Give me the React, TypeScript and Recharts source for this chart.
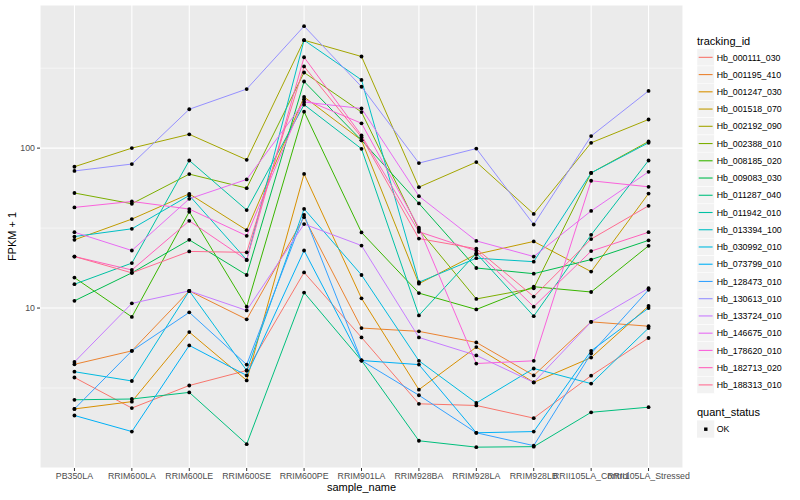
import React from "react";
import { LineChart, Line, XAxis, YAxis, CartesianGrid, ReferenceLine } from "recharts";

const samples = [
  "PB350LA",
  "RRIM600LA",
  "RRIM600LE",
  "RRIM600SE",
  "RRIM600PE",
  "RRIM901LA",
  "RRIM928BA",
  "RRIM928LA",
  "RRIM928LB",
  "RRII105LA_Control",
  "RRII105LA_Stressed",
];

const trackingIds = [
  "Hb_000111_030",
  "Hb_001195_410",
  "Hb_001247_030",
  "Hb_001518_070",
  "Hb_002192_090",
  "Hb_002388_010",
  "Hb_008185_020",
  "Hb_009083_030",
  "Hb_011287_040",
  "Hb_011942_010",
  "Hb_013394_100",
  "Hb_030992_010",
  "Hb_073799_010",
  "Hb_128473_010",
  "Hb_130613_010",
  "Hb_133724_010",
  "Hb_146675_010",
  "Hb_178620_010",
  "Hb_182713_020",
  "Hb_188313_010",
];

const COLORS = [
  "#F8766D", "#EA8331", "#D89000", "#C09B00", "#A3A500",
  "#7CAE00", "#39B600", "#00BB4E", "#00BF7D", "#00C1A3",
  "#00BFC4", "#00BAE0", "#00B0F6", "#35A2FF", "#9590FF",
  "#C77CFF", "#E76BF3", "#FA62DB", "#FF62BC", "#FF6C91",
];

// FPKM + 1, one value per sample
const hb_000111_030 = [3.68, 2.37, 3.28, 4.07, 16.7, 6.55, 2.52, 2.46, 2.05, 3.78, 6.5];
const hb_001195_410 = [4.45, 5.4, 12.8, 8.5, 37, 7.5, 7.15, 6.1, 3.79, 8.2, 7.7];
const hb_001247_030 = [2.34, 2.6, 7.08, 3.53, 69, 11.5, 3.09, 5.7, 3.43, 4.9, 10.3];
const hb_001518_070 = [26.7, 36, 51.8, 30.7, 209, 112, 14.2, 21.7, 26.1, 16.9, 52];
const hb_002192_090 = [76.5, 100, 122, 84.5, 473, 374, 57, 81.8, 38.8, 108, 151];
const hb_002388_010 = [52.4, 44.9, 68.8, 56.2, 297, 168, 31, 11.4, 13.3, 70, 110];
const hb_008185_020 = [15.5, 8.8, 40, 10.2, 169, 29.7, 12.4, 9.8, 13.6, 12.6, 24.5];
const hb_009083_030 = [11.1, 16.6, 26.7, 16.1, 261, 112, 45.1, 17.8, 16.4, 20.1, 26.5];
const hb_011287_040 = [2.67, 2.7, 2.97, 1.41, 12.5, 4.7, 1.48, 1.35, 1.36, 2.23, 2.4];
const hb_011942_010 = [14.1, 19.1, 83.7, 41, 187, 99, 9.0, 22, 8.9, 28.7, 83.7];
const hb_013394_100 = [28, 31.3, 50.6, 20, 473, 267, 14.5, 20.5, 19.5, 70, 108];
const hb_030992_010 = [4.0, 3.5, 12.8, 4.07, 41.7, 16.1, 4.68, 2.55, 4.19, 3.37, 7.5];
const hb_073799_010 = [2.13, 1.69, 5.84, 3.79, 22.9, 4.7, 4.43, 1.66, 1.69, 5.4, 10];
const hb_128473_010 = [2.34, 5.4, 9.4, 4.43, 38.3, 4.7, 2.85, 1.66, 1.38, 5.2, 13];
const hb_130613_010 = [72, 79.5, 175, 234, 579, 242, 80.6, 99.4, 33.3, 119, 228];
const hb_133724_010 = [4.6, 10.7, 12.8, 9.66, 33.5, 24.6, 6.55, 5.06, 3.43, 8.2, 13.3];
const hb_146675_010 = [29.8, 22.9, 48.2, 63.7, 194, 177, 50.1, 26.3, 21, 40.5, 71.1];
const hb_178620_010 = [42.6, 46.4, 41.6, 28.3, 202, 143, 31.8, 4.5, 4.68, 62.5, 57.3];
const hb_182713_020 = [21, 17.3, 35.1, 20, 370, 120, 30, 22.8, 10.2, 22.7, 29.8];
const hb_188313_010 = [21, 16.6, 22.6, 22.3, 324, 117, 27.2, 23.5, 11.8, 27, 43.6];

const series = [
  hb_000111_030, hb_001195_410, hb_001247_030, hb_001518_070, hb_002192_090,
  hb_002388_010, hb_008185_020, hb_009083_030, hb_011287_040, hb_011942_010,
  hb_013394_100, hb_030992_010, hb_073799_010, hb_128473_010, hb_130613_010,
  hb_133724_010, hb_146675_010, hb_178620_010, hb_182713_020, hb_188313_010,
];

const yTicks = [10, 100];
const yMinor = [3.1623, 31.623, 316.23];

const data = samples.map((name, i) => {
  const row: any = { x: i, name };
  series.forEach((s, j) => (row["g" + j] = s[i]));
  return row;
});

const FONT = "'Liberation Sans', Arial, Helvetica, sans-serif";

function Legend() {
  const top = 48.7;
  const step = 17.24;
  return (
    <svg width={110} height={450} style={{ position: "absolute", left: 690, top: 0 }} fontFamily={FONT}>
      <text x={7} y={44.5} fontSize={11} fill="#000">tracking_id</text>
      {trackingIds.map((id, i) => {
        const y = top + i * step;
        return (
          <g key={id}>
            <rect x={7} y={y} width={17.28} height={17.28} fill="#F2F2F2" stroke="#fff" strokeWidth={0.5} />
            <line x1={8.7} x2={22.6} y1={y + 8.64} y2={y + 8.64} stroke={COLORS[i]} strokeWidth={1.1} />
            <text x={26.7} y={y + 11.8} fontSize={8.8} fill="#000">{id}</text>
          </g>
        );
      })}
      <text x={7} y={416} fontSize={11} fill="#000">quant_status</text>
      <rect x={7} y={420.4} width={17.28} height={17.28} fill="#F2F2F2" />
      <rect x={14.1} y={427.5} width={3.4} height={3.4} fill="#000" />
      <text x={26.7} y={432.3} fontSize={8.8} fill="#000">OK</text>
    </svg>
  );
}

export default function App() {
  return (
    <div style={{ position: "absolute", left: 0, top: 0, width: 800, height: 500, background: "#fff", fontFamily: FONT }}>
      <LineChart width={800} height={500} data={data} margin={{ top: 5, right: 117, bottom: 0, left: 0 }}>
        <CartesianGrid fill="#EBEBEB" stroke="#fff" strokeWidth={1.07} />
        {yMinor.map((v) => (
          <ReferenceLine key={v} y={v} stroke="#fff" strokeWidth={0.53} />
        ))}
        <XAxis
          type="number"
          dataKey="x"
          domain={[-0.6, 10.6]}
          ticks={samples.map((_, i) => i)}
          interval={0}
          tickFormatter={(v) => samples[v] ?? ""}
          axisLine={false}
          tickSize={3}
          tickLine={{ stroke: "#333333" }}
          tick={{ fontSize: 8.8, fill: "#4D4D4D", fontFamily: FONT }}
          height={32}
          allowDataOverflow
        />
        <YAxis
          scale="log"
          domain={[1, 785]}
          ticks={yTicks}
          allowDataOverflow
          axisLine={false}
          tickSize={3}
          tickLine={{ stroke: "#333333" }}
          tick={{ fontSize: 8.8, fill: "#4D4D4D", fontFamily: FONT }}
          width={40}
        />
        {series.map((_, j) => (
          <Line
            key={"l" + j}
            dataKey={"g" + j}
            stroke={COLORS[j]}
            strokeWidth={1}
            dot={false}
            activeDot={false}
            type="linear"
            isAnimationActive={false}
          />
        ))}
        {series.map((_, j) => (
          <Line
            key={"d" + j}
            dataKey={"g" + j}
            stroke="none"
            dot={{ r: 1.9, fill: "#000", stroke: "none" }}
            activeDot={false}
            isAnimationActive={false}
          />
        ))}
      </LineChart>
      <div style={{ position: "absolute", left: 0, top: 481, width: 723, textAlign: "center", fontSize: 11, color: "#000" }}>
        sample_name
      </div>
      <svg width={30} height={500} style={{ position: "absolute", left: 0, top: 0 }}>
        <text x={16} y={236.5} fontSize={11} fill="#000" textAnchor="middle" transform="rotate(-90 16 236.5)" fontFamily={FONT}>
          FPKM + 1
        </text>
      </svg>
      <Legend />
    </div>
  );
}
